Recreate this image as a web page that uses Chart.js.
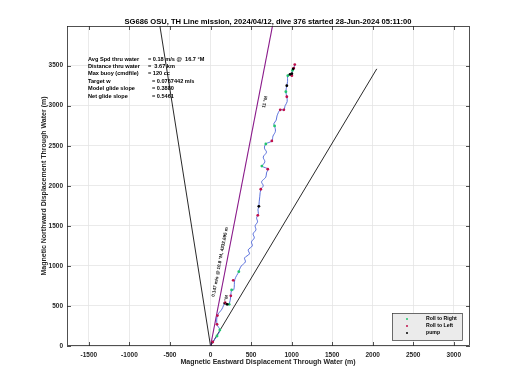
<!DOCTYPE html>
<html>
<head>
<meta charset="utf-8">
<script src="https://cdn.jsdelivr.net/npm/chart.js@4.4.1/dist/chart.umd.min.js"></script>
<style>
  html, body { margin: 0; padding: 0; background: #fff; }
  #wrap { width: 520px; height: 390px; }
</style>
</head>
<body>
<div id="wrap"><canvas id="dive-chart" width="520" height="390"></canvas></div>
<script>
const titleText = 'SG686 OSU, TH Line mission, 2024/04/12, dive 376 started 28-Jun-2024 05:11:00';
const xTicks = [-1500, -1000, -500, 0, 500, 1000, 1500, 2000, 2500, 3000];
const yTicks = [0, 500, 1000, 1500, 2000, 2500, 3000, 3500];

// glide slope lines from the start point
const leftLineX = [0, -625];
const leftLineY = [0, 4000];
const rightLineX = [0, 2050];
const rightLineY = [0, 3460];
const headingLineX = [0, 765];
const headingLineY = [0, 4000];

// track through water
const trackX = [0, 28, 80, 115, 80, 85, 140, 180, 205, 230, 250, 260, 287, 300, 349, 355, 380, 430, 420, 480, 465, 515, 505, 540, 525, 560, 550, 580, 568, 590, 585, 596, 600, 608, 620, 650, 630, 682, 690, 706, 640, 633, 670, 650, 690, 665, 682, 756, 770, 800, 790, 780, 810, 820, 860, 904, 920, 945, 941, 929, 941, 950, 953, 980, 1003, 1010, 1027, 1039];
const trackY = [0, 50, 125, 200, 270, 380, 460, 540, 520, 520, 627, 700, 703, 830, 928, 950, 1000, 1050, 1100, 1150, 1200, 1250, 1300, 1350, 1400, 1450, 1500, 1550, 1600, 1650, 1700, 1744, 1800, 1870, 1957, 2000, 2050, 2108, 2160, 2208, 2240, 2246, 2300, 2359, 2420, 2470, 2522, 2560, 2620, 2680, 2748, 2773, 2820, 2873, 2949, 2949, 3000, 3050, 3112, 3174, 3250, 3300, 3375, 3390, 3400, 3440, 3463, 3513];

const rightRollX = [80, 115, 230, 260, 349, 633, 682, 790, 929, 953, 1010];
const rightRollY = [125, 200, 520, 700, 928, 2246, 2522, 2748, 3174, 3375, 3440];
const leftRollX = [28, 80, 85, 180, 250, 280, 583, 620, 706, 756, 860, 904, 941, 1003, 1039, 1027];
const leftRollY = [50, 270, 380, 540, 627, 820, 1631, 1957, 2208, 2560, 2949, 2949, 3112, 3375, 3513, 3470];
const pumpX = [205, 596, 941, 980, 1003, 1020];
const pumpY = [520, 1744, 3250, 3390, 3400, 3460];

const infoLabels = ['Avg Spd thru water', 'Distance thru water', 'Max buoy (cmdfile)', 'Target w', 'Model glide slope', 'Net glide slope'];
const infoValues = ['= 0.18 m/s @  16.7 \u00b0M', '=  3.67 km', '= 120 cc', '= 0.0767442 m/s', '= 0.3880', '= 0.5461'];

const legendNames = ['Roll to Right', 'Roll to Left', 'pump'];
const legendColors = ['#22c46e', '#c0104c', '#000000'];

function toPoints(xs, ys) {
  return xs.map((x, i) => ({ x: x, y: ys[i] }));
}

const tickFont = { family: 'Liberation Sans', size: 6.5, weight: 'bold' };

const decorPlugin = {
  id: 'decor',
  afterDraw(chart) {
    const ctx = chart.ctx;
    const a = chart.chartArea;
    const xs = chart.scales.x;
    const ys = chart.scales.y;
    ctx.save();

    // frame with inward ticks
    ctx.strokeStyle = '#262626';
    ctx.lineWidth = 0.8;
    ctx.strokeRect(a.left + 0.5, a.top + 0.5, a.right - a.left - 1, a.bottom - a.top - 1);
    ctx.beginPath();
    xTicks.forEach(v => {
      const px = Math.round(xs.getPixelForValue(v)) + 0.5;
      ctx.moveTo(px, a.bottom); ctx.lineTo(px, a.bottom - 4);
      ctx.moveTo(px, a.top); ctx.lineTo(px, a.top + 4);
    });
    yTicks.forEach(v => {
      const py = Math.round(ys.getPixelForValue(v)) + 0.5;
      ctx.moveTo(a.left, py); ctx.lineTo(a.left + 4, py);
      ctx.moveTo(a.right, py); ctx.lineTo(a.right - 4, py);
    });
    ctx.stroke();

    // title and axis labels
    ctx.fillStyle = '#000';
    ctx.font = 'bold 7.6px "Liberation Sans"';
    ctx.textAlign = 'center';
    ctx.textBaseline = 'middle';
    ctx.fillText(titleText, 268, 22);
    ctx.fillStyle = '#262626';
    ctx.font = 'bold 7px "Liberation Sans"';
    ctx.fillText('Magnetic Eastward Displacement Through Water (m)', 268, 362);
    ctx.save();
    ctx.translate(44, 186);
    ctx.rotate(-Math.PI / 2);
    ctx.fillText('Magnetic Northward Displacement Through Water (m)', 0, 0);
    ctx.restore();

    // info block
    ctx.fillStyle = '#000';
    ctx.font = 'bold 5.6px "Liberation Sans"';
    ctx.textAlign = 'left';
    infoLabels.forEach((t, i) => {
      const y = 59 + i * 7.4;
      ctx.fillText(t, 88, y);
      ctx.fillText(infoValues[i], i >= 3 ? 152 : 148, y);
    });

    // rotated notes along the heading line
    const ang = Math.atan2(headingLineY[1] * 0.0797, headingLineX[1] * 0.0811);
    ctx.font = 'bold 4.6px "Liberation Sans"';
    const notes = [
      ['0.147 m/s @ 10.8 \u00b0M, 4332.695 m', 220, 262],
      ['11 \u00b0M', 265, 102],
      ['5 \u00b0M', 226, 300]
    ];
    notes.forEach(n => {
      ctx.save();
      ctx.translate(n[1], n[2]);
      ctx.rotate(-ang);
      ctx.textAlign = 'center';
      ctx.fillText(n[0], 0, 0);
      ctx.restore();
    });

    // legend box
    ctx.fillStyle = '#ebebeb';
    ctx.fillRect(392, 313, 70, 27);
    ctx.strokeStyle = '#333';
    ctx.lineWidth = 0.7;
    ctx.strokeRect(392.5, 313.5, 70, 27);
    ctx.font = 'bold 5.2px "Liberation Sans"';
    legendNames.forEach((name, i) => {
      const y = 319 + i * 7;
      ctx.fillStyle = legendColors[i];
      ctx.beginPath();
      ctx.arc(407, y, 1, 0, Math.PI * 2);
      ctx.fill();
      ctx.fillStyle = '#000';
      ctx.fillText(name, 426, y);
    });
    ctx.restore();
  }
};

const ctx = document.getElementById('dive-chart').getContext('2d');
new Chart(ctx, {
  type: 'scatter',
  data: {
    datasets: [
      {
        label: 'pump',
        data: toPoints(pumpX, pumpY),
        backgroundColor: legendColors[2],
        borderColor: legendColors[2],
        pointRadius: 1.4,
        borderWidth: 0,
        order: 0
      },
      {
        label: 'Roll to Left',
        data: toPoints(leftRollX, leftRollY),
        backgroundColor: legendColors[1],
        borderColor: legendColors[1],
        pointRadius: 1.4,
        borderWidth: 0,
        order: 1
      },
      {
        label: 'Roll to Right',
        data: toPoints(rightRollX, rightRollY),
        backgroundColor: legendColors[0],
        borderColor: legendColors[0],
        pointRadius: 1.4,
        borderWidth: 0,
        order: 2
      },
      {
        label: 'track',
        data: toPoints(trackX, trackY),
        showLine: true,
        borderColor: '#4a62d8',
        borderWidth: 0.9,
        pointRadius: 0,
        tension: 0.35,
        order: 3
      },
      {
        label: 'heading',
        data: toPoints(headingLineX, headingLineY),
        showLine: true,
        borderColor: '#8a1a8a',
        borderWidth: 1.1,
        pointRadius: 0,
        order: 4
      },
      {
        label: 'right slope',
        data: toPoints(rightLineX, rightLineY),
        showLine: true,
        borderColor: '#111',
        borderWidth: 0.9,
        pointRadius: 0,
        order: 5
      },
      {
        label: 'left slope',
        data: toPoints(leftLineX, leftLineY),
        showLine: true,
        borderColor: '#111',
        borderWidth: 0.9,
        pointRadius: 0,
        order: 6
      }
    ]
  },
  options: {
    responsive: false,
    animation: false,
    layout: { padding: { left: 0, right: 50, top: 26, bottom: 0 } },
    plugins: {
      legend: { display: false },
      tooltip: { enabled: false }
    },
    scales: {
      x: {
        type: 'linear',
        min: -1770,
        max: 3200,
        afterBuildTicks: s => { s.ticks = xTicks.map(v => ({ value: v })); },
        afterFit: s => { s.height = 44; },
        grid: { color: '#e4e4e4', lineWidth: 0.8, drawTicks: false },
        border: { display: false },
        ticks: { font: tickFont, color: '#262626', padding: 5, maxRotation: 0, callback: v => String(v) }
      },
      y: {
        type: 'linear',
        min: 0,
        max: 3995,
        afterBuildTicks: s => { s.ticks = yTicks.map(v => ({ value: v })); },
        afterFit: s => { s.width = 67; },
        grid: { color: '#e4e4e4', lineWidth: 0.8, drawTicks: false },
        border: { display: false },
        ticks: { font: tickFont, color: '#262626', padding: 4, callback: v => String(v) }
      }
    }
  },
  plugins: [decorPlugin]
});
</script>
</body>
</html>
